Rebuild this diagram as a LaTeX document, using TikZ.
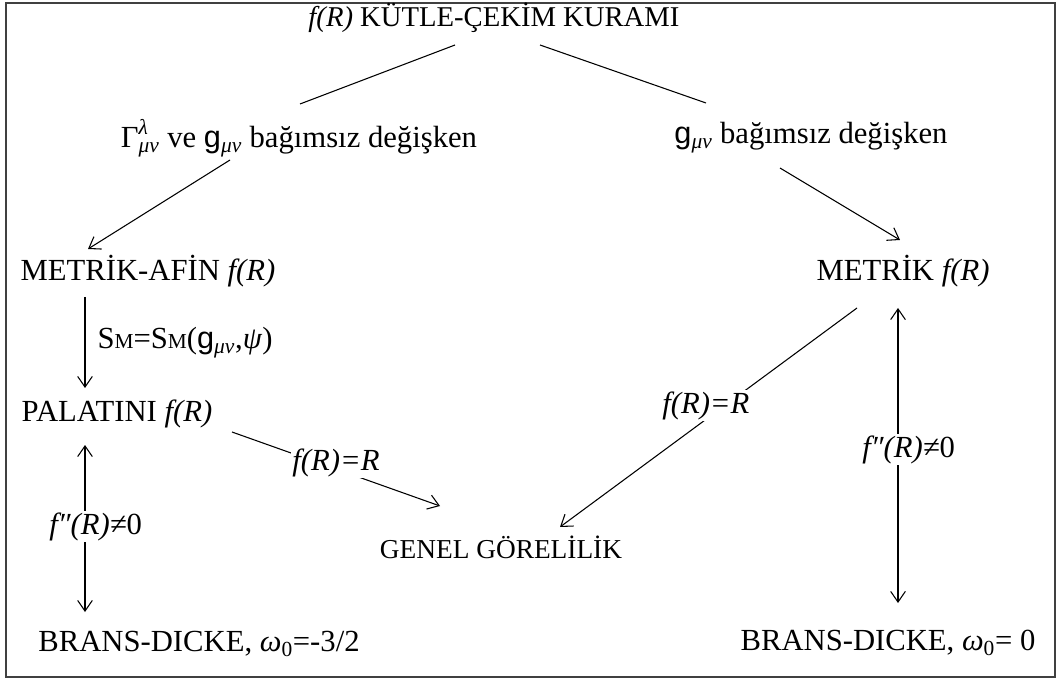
\documentclass[tikz,border=0pt]{standalone}
\usepackage{fontspec}
\setmainfont{Liberation Serif}
\newfontfamily\gfont{Liberation Sans}
\usetikzlibrary{arrows.meta,calc}
\newcommand{\gmn}{{\gfont g}\textsubscript{\itshape μν}}
\newcommand{\smM}{{\fontsize{16}{16}\selectfont M}}
\tikzset{
  term/.style={inner sep=0pt, font=\fontsize{23}{27}\selectfont},
  lbl/.style={fill=white, inner sep=1pt, font=\fontsize{23}{27}\selectfont},
  arrow/.style={-{Straight Barb[length=8pt,width=11pt]}, line width=0.8pt},
  twoway/.style={{Straight Barb[length=8pt,width=11pt]}-{Straight Barb[length=8pt,width=11pt]}, line width=0.8pt},
  plain/.style={line width=0.8pt}
}
\begin{document}
\begin{tikzpicture}[x=0.75pt,y=-0.75pt]
  \useasboundingbox (0,0) rectangle (1059,680);
  \draw[line width=1.6pt, black!75] (6,3) rectangle (1055,677);
  % theory nodes
  \node[term, font=\fontsize{21.5}{25}\selectfont] (title) at (494,18) {\textit{f(R)} KÜTLE-ÇEKİM KURAMI};
  \node[term] (gl) at (299,138) {Γ\rlap{\raisebox{1pt}{\textsuperscript{\itshape λ}}}\textsubscript{\itshape μν} ve \gmn{} bağımsız değişken};
  \node[term] (gr) at (811,138) {\gmn{} bağımsız değişken};
  \node[term] (maf) at (148,271) {METRİK-AFİN \textit{f(R)}};
  \node[term] (met) at (903,271) {METRİK \textit{f(R)}};
  \node[term] (pal) at (117,414) {PALATINI \textit{f(R)}};
  \node[term, font=\fontsize{20.5}{24}\selectfont] (gen) at (501,547) {GENEL GÖRELİLİK};
  \node[term] (bdl) at (199,644) {BRANS-DICKE, \textit{ω}\textsubscript{0}=-3/2};
  \node[term] (bdr) at (888,643) {BRANS-DICKE, \textit{ω}\textsubscript{0}= 0};
  % connectors
  \draw[plain] ($(title)+(-39,27)$) -- ($(gl)+(1,-34)$);
  \draw[plain] ($(title)+(46,27)$) -- ($(gr)+(-105,-35)$);
  \draw[arrow] ($(gl)+(-69,22)$) -- ($(maf)+(-60,-22)$);
  \draw[arrow] ($(gr)+(-31,30)$) -- ($(met)+(-3,-31)$);
  \draw[arrow] ($(maf)+(-63,26)$) -- node[term, right=9pt] {S\smM=S\smM(\gmn,\textit{ψ})} ($(pal)+(-32,-26)$);
  \draw[arrow] ($(pal)+(115,18)$) -- node[lbl, yshift=4.5pt] {\textit{f(R)=R}} ($(gen)+(-61,-41)$);
  \draw[arrow] ($(met)+(-46,37)$) -- node[lbl, yshift=9pt, xshift=-2pt] {\textit{f(R)=R}} ($(gen)+(59,-20)$);
  \draw[twoway] ($(pal)+(-32,31)$) -- node[lbl, pos=0.49, xshift=8pt] {\textit{f″(R)≠}0} ($(bdl)+(-114,-32)$);
  \draw[twoway] ($(met)+(-5,37)$) -- node[lbl, pos=0.48, xshift=8pt] {\textit{f″(R)≠}0} ($(bdr)+(10,-40)$);
\end{tikzpicture}
\end{document}
